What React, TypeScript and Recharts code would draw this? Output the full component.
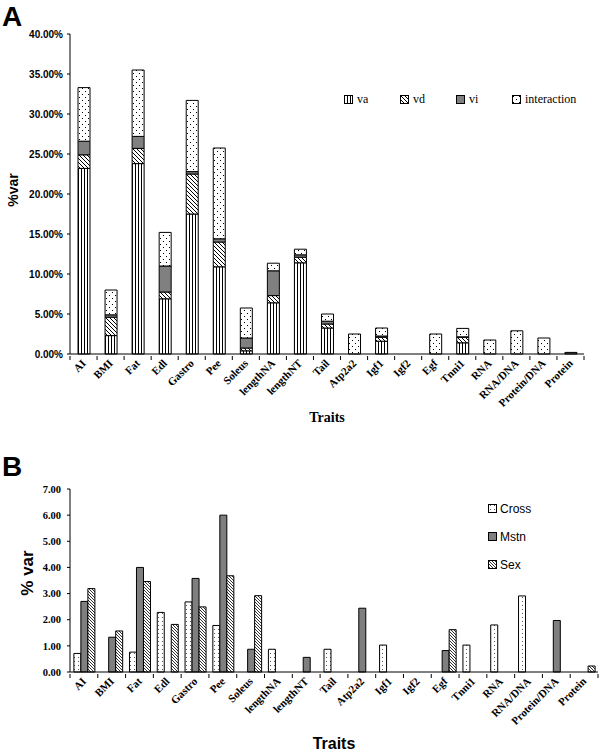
import React from 'react';
import { BarChart, Bar, XAxis, YAxis, Legend } from 'recharts';

const traits = ['AI', 'BMI', 'Fat', 'Edl', 'Gastro', 'Pee', 'Soleus', 'lengthNA', 'lengthNT', 'Tail', 'Atp2a2', 'Igf1', 'Igf2', 'Egf', 'Tnni1', 'RNA', 'RNA/DNA', 'Protein/DNA', 'Protein'];

// panel A: % of variance, stacked
const va = [23.2, 2.3, 23.8, 6.9, 17.5, 10.9, 0.4, 6.4, 11.4, 3.25, 0, 1.6, 0, 0, 1.4, 0, 0, 0, 0];
const vd = [1.7, 2.3, 1.9, 0.85, 5.0, 3.1, 0.35, 0.9, 0.7, 0.5, 0, 0.5, 0, 0, 0.7, 0, 0, 0, 0];
const vi = [1.7, 0.3, 1.5, 3.25, 0.3, 0.4, 1.25, 3.1, 0.3, 0.35, 0, 0.15, 0, 0, 0.05, 0, 0, 0, 0.2];
const interaction = [6.7, 3.1, 8.3, 4.2, 8.9, 11.35, 3.75, 0.95, 0.7, 0.9, 2.5, 1.0, 0, 2.5, 1.05, 1.75, 2.9, 2.0, 0];
const ticksA = [0, 5, 10, 15, 20, 25, 30, 35, 40];

// panel B: grouped
const cross = [0.71, 0, 0.76, 2.28, 2.68, 1.78, 0, 0.87, 0, 0.87, 0, 1.03, 0, 0, 1.03, 1.8, 2.91, 0, 0];
const mstn = [2.7, 1.33, 4.0, 0, 3.58, 6.0, 0.87, 0, 0.56, 0, 2.44, 0, 0, 0.82, 0, 0, 0, 1.97, 0];
const sex = [3.19, 1.57, 3.46, 1.82, 2.49, 3.68, 2.92, 0, 0, 0, 0, 0, 0, 1.62, 0, 0, 0, 0, 0.23];
const ticksB = [0, 1, 2, 3, 4, 5, 6, 7];

const dataA = traits.map((t, i) => ({ trait: t, va: va[i], vd: vd[i], vi: vi[i], interaction: interaction[i] }));
const dataB = traits.map((t, i) => ({ trait: t, Cross: cross[i], Mstn: mstn[i], Sex: sex[i] }));

const SERIF = '"Liberation Serif", "Times New Roman", serif';
const SANS = '"Liberation Sans", Arial, sans-serif';

const BAND_A = (600 - 70 - 16) / traits.length;
const BAND_B = (600 - 70 - 2) / traits.length;

const seriesA = [
  { key: 'va', fill: 'url(#pVa)' },
  { key: 'vd', fill: 'url(#pVd)' },
  { key: 'vi', fill: '#808080' },
  { key: 'interaction', fill: 'url(#pInt)' },
];
const seriesB = [
  { key: 'Cross', fill: 'url(#pCross)' },
  { key: 'Mstn', fill: '#7f7f7f' },
  { key: 'Sex', fill: 'url(#pSex)' },
];

function Patterns() {
  return (
    <defs>
      <pattern id="pVa" width="3" height="4" patternUnits="userSpaceOnUse">
        <rect width="3" height="4" fill="#fff" />
        <rect x="0" width="1" height="4" fill="#000" />
      </pattern>
      <pattern id="pVd" width="4" height="4" patternUnits="userSpaceOnUse">
        <rect width="4" height="4" fill="#fff" />
        <path d="M-1,-1 L5,5 M-1,3 L1,5 M3,-1 L5,1" stroke="#000" strokeWidth="1" />
      </pattern>
      <pattern id="pInt" width="6" height="6" patternUnits="userSpaceOnUse">
        <rect width="6" height="6" fill="#fff" />
        <rect x="1" y="1" width="1" height="1" fill="#000" />
        <rect x="4" y="4" width="1" height="1" fill="#000" />
      </pattern>
      <pattern id="pCross" width="4" height="4" patternUnits="userSpaceOnUse">
        <rect width="4" height="4" fill="#fff" />
        <rect x="2" y="1" width="1" height="1" fill="#555" />
      </pattern>
      <pattern id="pSex" width="3" height="3" patternUnits="userSpaceOnUse">
        <rect width="3" height="3" fill="#fff" />
        <path d="M-1,-1 L4,4 M-1,2 L1,4 M2,-1 L4,1" stroke="#333" strokeWidth="1" />
      </pattern>
    </defs>
  );
}

function TraitTick(props: any) {
  const { x, y, payload, index, band, fontSize } = props;
  const last = index === traits.length - 1;
  return (
    <g>
      <line x1={x - band / 2} x2={x - band / 2} y1={y} y2={y + 4} stroke="#000" />
      {last && <line x1={x + band / 2} x2={x + band / 2} y1={y} y2={y + 4} stroke="#000" />}
      <text
        transform={`translate(${x + 3},${y + 8}) rotate(-45)`}
        textAnchor="end"
        fontFamily={SERIF}
        fontWeight="bold"
        fontSize={fontSize}
        fill="#000"
      >
        {payload.value}
      </text>
    </g>
  );
}

function LegendA() {
  return (
    <div style={{ display: 'flex', fontFamily: SERIF, fontSize: 12, color: '#000' }}>
      {seriesA.map((s) => (
        <div key={s.key} style={{ width: 56, flexShrink: 0, display: 'flex', alignItems: 'center' }}>
          <svg width="10" height="10" style={{ marginRight: 3, flexShrink: 0 }}>
            <rect x="0.5" y="0.5" width="8" height="8" fill={s.fill} stroke="#000" />
          </svg>
          <span>{s.key}</span>
        </div>
      ))}
    </div>
  );
}

function LegendB() {
  return (
    <div style={{ fontFamily: SANS, fontSize: 12, color: '#000' }}>
      {seriesB.map((s) => (
        <div key={s.key} style={{ height: 28, display: 'flex', alignItems: 'center' }}>
          <svg width="10" height="10" style={{ marginRight: 2, flexShrink: 0 }}>
            <rect x="0.5" y="0.5" width="8" height="8" fill={s.fill} stroke="#000" />
          </svg>
          <span>{s.key}</span>
        </div>
      ))}
    </div>
  );
}

export default function App() {
  return (
    <div style={{ position: 'absolute', left: 0, top: 0, width: 600, height: 752, background: '#fff' }}>
      <div style={{ position: 'absolute', left: 0, top: 0 }}>
        <BarChart width={600} height={440} data={dataA} margin={{ top: 34, right: 16, left: 0, bottom: 0 }} barSize={12}>
          <Patterns />
          <XAxis
            dataKey="trait"
            height={86}
            interval={0}
            tickSize={0}
            tickLine={false}
            axisLine={{ stroke: '#000' }}
            tick={(p: any) => <TraitTick {...p} band={BAND_A} fontSize={11} />}
          />
          <YAxis
            width={70}
            domain={[0, 40]}
            ticks={ticksA}
            interval={0}
            tickSize={3}
            tickMargin={4}
            axisLine={{ stroke: '#000' }}
            tickLine={{ stroke: '#000' }}
            tickFormatter={(v: number) => `${v.toFixed(2)}%`}
            tick={{ fontFamily: SANS, fontWeight: 'bold', fontSize: 10, fill: '#000' }}
          />
          <Legend
            layout="horizontal"
            verticalAlign="middle"
            align="center"
            content={() => <LegendA />}
            wrapperStyle={{ position: 'absolute', left: 344, top: 92, width: 250 }}
          />
          {seriesA.map((s) => (
            <Bar key={s.key} dataKey={s.key} stackId="a" fill={s.fill} stroke="#000" strokeWidth={1} isAnimationActive={false} />
          ))}
          <text x={2} y={26} fontFamily={SANS} fontWeight="bold" fontSize={28} fill="#000">A</text>
          <text transform="translate(18,190) rotate(-90)" textAnchor="middle" fontFamily={SANS} fontWeight="bold" fontSize={14} fill="#000">%var</text>
          <text x={327} y={422} textAnchor="middle" fontFamily={SERIF} fontWeight="bold" fontSize={14} fill="#000">Traits</text>
        </BarChart>
      </div>
      <div style={{ position: 'absolute', left: 0, top: 440 }}>
        <BarChart width={600} height={312} data={dataB} margin={{ top: 49, right: 2, left: 0, bottom: 0 }} barCategoryGap="14%" barGap={0}>
          <Patterns />
          <XAxis
            dataKey="trait"
            height={80}
            interval={0}
            tickSize={0}
            tickLine={false}
            axisLine={{ stroke: '#000' }}
            tick={(p: any) => <TraitTick {...p} band={BAND_B} fontSize={11} />}
          />
          <YAxis
            width={70}
            domain={[0, 7]}
            ticks={ticksB}
            interval={0}
            tickSize={3}
            tickMargin={6}
            axisLine={{ stroke: '#000' }}
            tickLine={{ stroke: '#000' }}
            tickFormatter={(v: number) => v.toFixed(2)}
            tick={{ fontFamily: SERIF, fontWeight: 'bold', fontSize: 10.5, fill: '#000' }}
          />
          <Legend
            layout="vertical"
            verticalAlign="middle"
            align="center"
            content={() => <LegendB />}
            wrapperStyle={{ position: 'absolute', left: 488, top: 55, width: 80 }}
          />
          {seriesB.map((s) => (
            <Bar key={s.key} dataKey={s.key} fill={s.fill} stroke="#000" strokeWidth={1} isAnimationActive={false} />
          ))}
          <text x={2} y={36} fontFamily={SANS} fontWeight="bold" fontSize={28} fill="#000">B</text>
          <text transform="translate(33,133) rotate(-90)" textAnchor="middle" fontFamily={SANS} fontWeight="bold" fontSize={17} fill="#000">% var</text>
          <text x={334} y={309} textAnchor="middle" fontFamily={SANS} fontWeight="bold" fontSize={16} fill="#000">Traits</text>
        </BarChart>
      </div>
    </div>
  );
}
